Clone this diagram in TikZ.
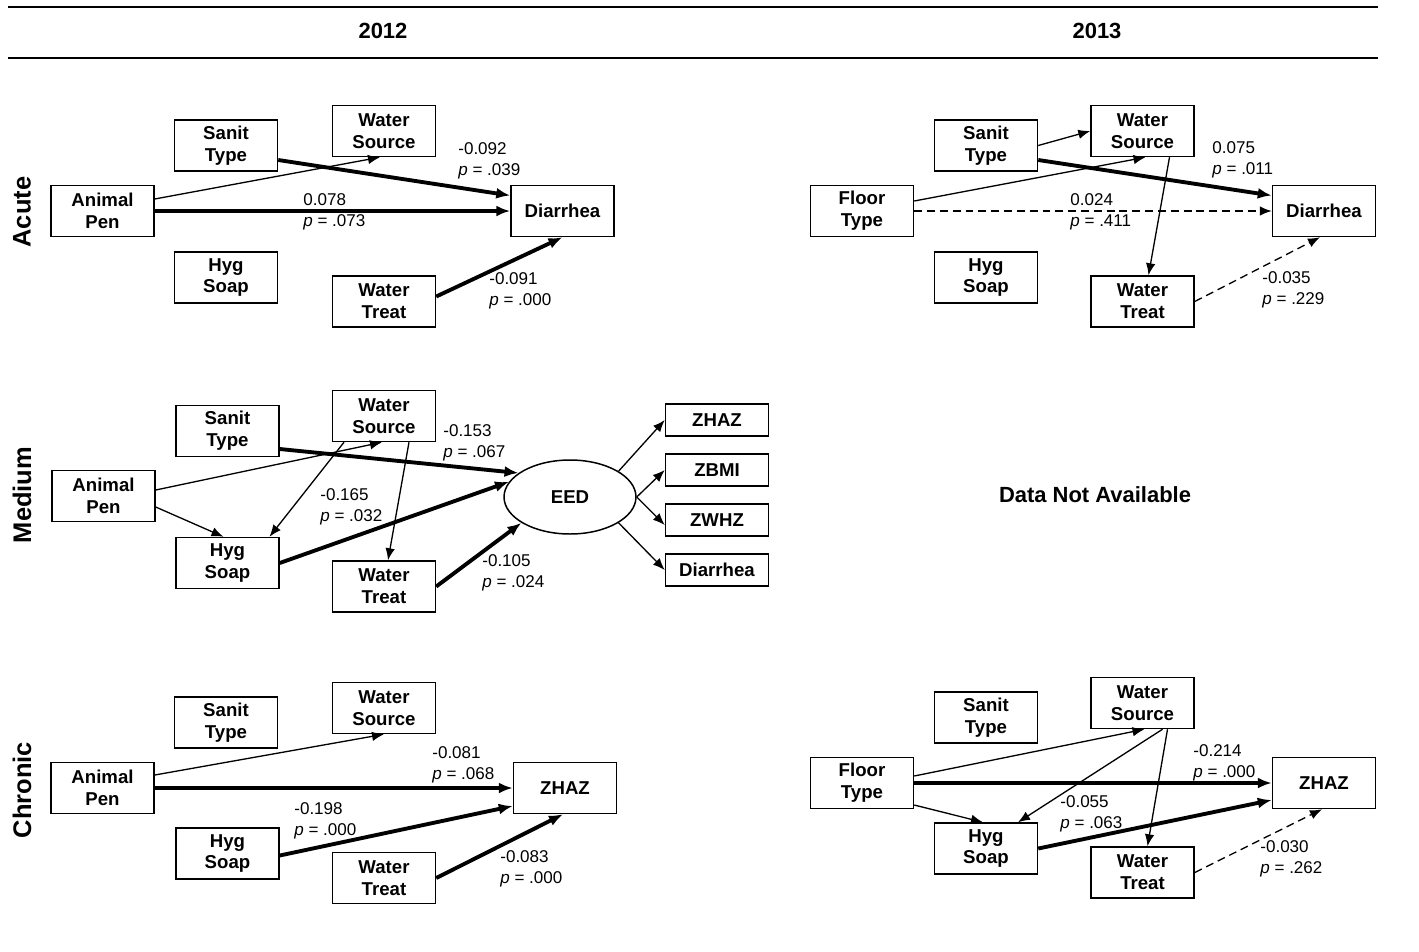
\documentclass[tikz,border=0pt]{standalone}
\usepackage{fontspec}
\setmainfont{Liberation Sans}
\usetikzlibrary{arrows.meta,calc,shapes.geometric}

\newcommand{\boxfont}{\fontsize{10.6}{12.4}\selectfont\bfseries}
\newcommand{\coeffont}{\fontsize{9.7}{12.1}\selectfont}

\begin{document}
\begin{tikzpicture}[x=0.02cm,y=-0.02cm,
	var/.style={draw, line width=0.85pt, minimum width=2.06cm, minimum height=1.02cm, align=center, font=\boxfont, inner sep=1pt},
	outvar/.style={var, minimum height=0.64cm},
	latent/.style={draw, ellipse, line width=0.85pt, minimum width=2.64cm, minimum height=1.48cm, font=\boxfont, inner sep=0pt},
	coef/.style={align=left, anchor=west, font=\coeffont, inner sep=0pt},
	weak/.style={line width=0.75pt, -{Latex[length=0.24cm,width=0.19cm]}},
	sig/.style={line width=2.2pt, -{Latex[length=0.28cm,width=0.22cm]}},
	nsig/.style={weak, dash pattern=on 4.5pt off 2.8pt},
	rowlabel/.style={rotate=90, font=\fontsize{14.5}{17}\selectfont\bfseries},
	yearlabel/.style={font=\fontsize{12.5}{14}\selectfont\bfseries}
]
\useasboundingbox (0,0) rectangle (1419,951);

\foreach \y in {7,58}{
	\draw[line width=1.2pt] (8,\y)--(1378,\y);
}

\node[yearlabel] (y2012) at (383,31) {2012};
\node[yearlabel] (y2013) at (1097,31) {2013};

\node[rowlabel] (racute) at (22,212) {Acute};
\node[rowlabel] (rmedium) at (22,495) {Medium};
\node[rowlabel] (rchronic) at (22,790) {Chronic};

% acute, 2012
\node[var] (a12pen) at (102.5,211) {Animal\\Pen};
\node[var] (a12sanit) at (226,145.5) {Sanit\\Type};
\node[var] (a12wsrc) at (384,131) {Water\\Source};
\node[var] (a12hyg) at (226,277.5) {Hyg\\Soap};
\node[var] (a12wtr) at (384,301.5) {Water\\Treat};
\node[var] (a12dia) at (562.5,211) {Diarrhea};

\draw[sig] ($(a12sanit.east)+(0,14.5)$) -- ($(a12dia.west)+(0,-15.5)$);
\draw[weak] ($(a12pen.east)+(0,-12)$) -- ($(a12wsrc.south)+(-4,0)$);
\draw[sig] (a12pen.east) -- (a12dia.west);
\draw[sig] ($(a12wtr.east)+(0,-5)$) -- (a12dia.south);

\node[coef] (a12c1) at (458,161) {-0.092\\\textit{p} = .039};
\node[coef] (a12c2) at (303,212) {0.078\\\textit{p} = .073};
\node[coef] (a12c3) at (489,291) {-0.091\\\textit{p} = .000};

% acute, 2013
\node[var] (a13floor) at (862,211) {Floor\\Type};
\node[var] (a13sanit) at (986,145.5) {Sanit\\Type};
\node[var] (a13wsrc) at (1142.5,131) {Water\\Source};
\node[var] (a13hyg) at (986,277.5) {Hyg\\Soap};
\node[var] (a13wtr) at (1142.5,301.5) {Water\\Treat};
\node[var] (a13dia) at (1324,211) {Diarrhea};

\draw[weak] (a13sanit.east) -- (a13wsrc.west);
\draw[sig] ($(a13sanit.east)+(0,14.5)$) -- ($(a13dia.west)+(0,-15.5)$);
\draw[weak] ($(a13floor.east)+(0,-10)$) -- ($(a13wsrc.south)+(3,0)$);
\draw[nsig] (a13floor.east) -- (a13dia.west);
\draw[weak] ($(a13wsrc.south)+(27,0)$) -- ($(a13wtr.north)+(6,0)$);
\draw[nsig] (a13wtr.east) -- ($(a13dia.south)+(-4,0)$);

\node[coef] (a13c1) at (1212,160) {0.075\\\textit{p} = .011};
\node[coef] (a13c2) at (1070,212) {0.024\\\textit{p} = .411};
\node[coef] (a13c3) at (1262,290) {-0.035\\\textit{p} = .229};

% medium, 2012
\node[var] (m12pen) at (103.5,496) {Animal\\Pen};
\node[var] (m12sanit) at (227.5,431) {Sanit\\Type};
\node[var] (m12wsrc) at (384,416) {Water\\Source};
\node[var] (m12hyg) at (227.5,563) {Hyg\\Soap};
\node[var] (m12wtr) at (384,586.5) {Water\\Treat};
\node[latent] (m12eed) at (570,497) {EED};
\node[outvar] (m12zhaz) at (717,420) {ZHAZ};
\node[outvar] (m12zbmi) at (717,470) {ZBMI};
\node[outvar] (m12zwhz) at (717,520) {ZWHZ};
\node[outvar] (m12dia) at (717,570) {Diarrhea};

\draw[sig] ($(m12sanit.east)+(0,18)$) -- (m12eed.155);
\draw[weak] ($(m12pen.east)+(0,-6)$) -- ($(m12wsrc.south)+(-2,0)$);
\draw[weak] ($(m12pen.east)+(0,11)$) -- ($(m12hyg.north)+(-4,0)$);
\draw[weak] ($(m12wsrc.south)+(-40,0)$) -- ($(m12hyg.north)+(42,0)$);
\draw[weak] ($(m12wsrc.south)+(25,0)$) -- ($(m12wtr.north)+(4,0)$);
\draw[sig] (m12hyg.east) -- (m12eed.166);
\draw[sig] (m12wtr.east) -- (m12eed.208);
\draw[weak] (m12eed.28) -- (m12zhaz.west);
\draw[weak] (m12eed.east) -- (m12zbmi.west);
\draw[weak] (m12eed.east) -- ($(m12zwhz.west)+(0,5)$);
\draw[weak] (m12eed.-28) -- (m12dia.west);

\node[coef] (m12c1) at (443,443) {-0.153\\\textit{p} = .067};
\node[coef] (m12c2) at (320,507) {-0.165\\\textit{p} = .032};
\node[coef] (m12c3) at (482,573) {-0.105\\\textit{p} = .024};

% medium, 2013
\node[font=\fontsize{12.5}{14}\selectfont\bfseries] (m13na) at (1095,495) {Data Not Available};

% chronic, 2012
\node[var] (c12pen) at (102.5,788) {Animal\\Pen};
\node[var] (c12sanit) at (226,722.5) {Sanit\\Type};
\node[var] (c12wsrc) at (384,708) {Water\\Source};
\node[var] (c12hyg) at (227.5,853.5) {Hyg\\Soap};
\node[var] (c12wtr) at (384,878) {Water\\Treat};
\node[var] (c12zhaz) at (565,788) {ZHAZ};

\draw[weak] ($(c12pen.east)+(0,-13)$) -- (c12wsrc.south);
\draw[sig] (c12pen.east) -- (c12zhaz.west);
\draw[sig] ($(c12hyg.east)+(0,2)$) -- ($(c12zhaz.west)+(0,18)$);
\draw[sig] (c12wtr.east) -- ($(c12zhaz.south)+(-2,0)$);

\node[coef] (c12c1) at (432,765) {-0.081\\\textit{p} = .068};
\node[coef] (c12c2) at (294,821) {-0.198\\\textit{p} = .000};
\node[coef] (c12c3) at (500,869) {-0.083\\\textit{p} = .000};

% chronic, 2013
\node[var] (c13floor) at (862,783) {Floor\\Type};
\node[var] (c13sanit) at (986,717.5) {Sanit\\Type};
\node[var] (c13wsrc) at (1142.5,703) {Water\\Source};
\node[var] (c13hyg) at (986,848.5) {Hyg\\Soap};
\node[var] (c13wtr) at (1142.5,872.5) {Water\\Treat};
\node[var] (c13zhaz) at (1324,783) {ZHAZ};

\draw[weak] ($(c13floor.east)+(0,-7)$) -- ($(c13wsrc.south)+(2,0)$);
\draw[sig] (c13floor.east) -- (c13zhaz.west);
\draw[weak] ($(c13floor.east)+(0,22)$) -- ($(c13hyg.north)+(-3,0)$);
\draw[weak] ($(c13wsrc.south)+(20,0)$) -- ($(c13hyg.north)+(32,0)$);
\draw[weak] ($(c13wsrc.south)+(25,0)$) -- ($(c13wtr.north)+(5,0)$);
\draw[sig] (c13hyg.east) -- ($(c13zhaz.west)+(0,17)$);
\draw[nsig] (c13wtr.east) -- ($(c13zhaz.south)+(-2,0)$);

\node[coef] (c13c1) at (1193,763) {-0.214\\\textit{p} = .000};
\node[coef] (c13c2) at (1060,814) {-0.055\\\textit{p} = .063};
\node[coef] (c13c3) at (1260,859) {-0.030\\\textit{p} = .262};

\end{tikzpicture}
\end{document}
